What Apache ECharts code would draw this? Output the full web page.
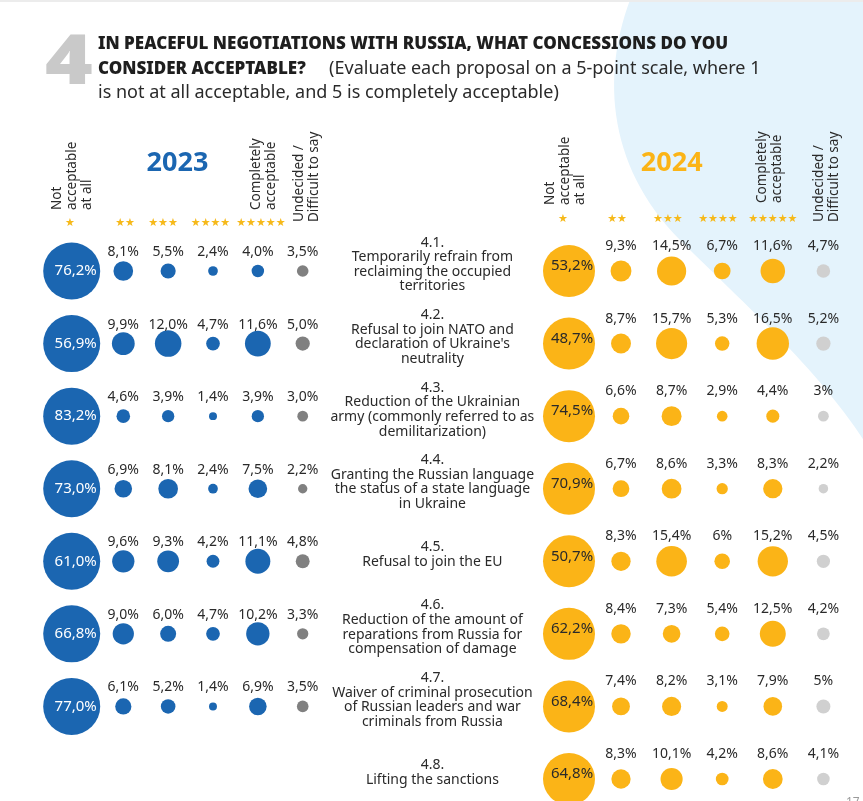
<!DOCTYPE html>
<html><head><meta charset="utf-8">
<script src="https://cdn.jsdelivr.net/npm/echarts@6/dist/echarts.min.js"></script>
<style>html,body{margin:0;padding:0;background:#fff}#c{width:863px;height:801px}</style>
</head><body><div id="c"></div>
<script>
// ---- data ----
const rowLabels = [
  '4.1.\nTemporarily refrain from\nreclaiming the occupied\nterritories',
  '4.2.\nRefusal to join NATO and\ndeclaration of Ukraine\'s\nneutrality',
  '4.3.\nReduction of the Ukrainian\narmy (commonly referred to as\ndemilitarization)',
  '4.4.\nGranting the Russian language\nthe status of a state language\nin Ukraine',
  '4.5.\nRefusal to join the EU',
  '4.6.\nReduction of the amount of\nreparations from Russia for\ncompensation of damage',
  '4.7.\nWaiver of criminal prosecution\nof Russian leaders and war\ncriminals from Russia',
  '4.8.\nLifting the sanctions'
];
const starLabels = ['★','★★','★★★','★★★★','★★★★★',''];
const headNot = 'Not\nacceptable\nat all';
const headComplete = 'Completely\nacceptable';
const headUndecided = 'Undecided /\nDifficult to say';
const year1 = '2023', year2 = '2024';

const y23_s1 = [76.2,56.9,83.2,73.0,61.0,66.8,77.0];
const y23_s2 = [8.1,9.9,4.6,6.9,9.6,9.0,6.1];
const y23_s3 = [5.5,12.0,3.9,8.1,9.3,6.0,5.2];
const y23_s4 = [2.4,4.7,1.4,2.4,4.2,4.7,1.4];
const y23_s5 = [4.0,11.6,3.9,7.5,11.1,10.2,6.9];
const y23_und = [3.5,5.0,3.0,2.2,4.8,3.3,3.5];

const y24_s1 = [53.2,48.7,74.5,70.9,50.7,62.2,68.4,64.8];
const y24_s2 = [9.3,8.7,6.6,6.7,8.3,8.4,7.4,8.3];
const y24_s3 = [14.5,15.7,8.7,8.6,15.4,7.3,8.2,10.1];
const y24_s4 = [6.7,5.3,2.9,3.3,6,5.4,3.1,4.2];
const y24_s5 = [11.6,16.5,4.4,8.3,15.2,12.5,7.9,8.6];
const y24_und = [4.7,5.2,3,2.2,4.5,4.2,5,4.1];

// ---- build ----
const BLUE = '#1b66b1', GRAY23 = '#808080', YEL = '#fbb417', GRAY24 = '#d0d0d0', STAR = '#f6b91a', TXT = '#2a2a2a';
const FONT = '"Noto Sans", sans-serif';
const pct23 = v => v.toFixed(1).replace('.', ',') + '%';
const pct24 = v => String(v).replace('.', ',') + '%';
const pts = (arr, col) => arr.map((v, r) => [col, r, v]);
const smallPts = (lists) => lists.flatMap((arr, i) => pts(arr, i + 1));

// decorative background shape (two cubic curves)
function cubic(p0, p1, p2, p3, n) {
  const out = [];
  for (let i = 0; i <= n; i++) {
    const t = i / n, u = 1 - t;
    out.push([
      u*u*u*p0[0] + 3*u*u*t*p1[0] + 3*u*t*t*p2[0] + t*t*t*p3[0],
      u*u*u*p0[1] + 3*u*u*t*p1[1] + 3*u*t*t*p2[1] + t*t*t*p3[1]
    ]);
  }
  return out;
}
const bgShape = cubic([630,0],[600,80],[610,170],[680,240],30)
  .concat(cubic([680,240],[750,310],[820,370],[870,450],30))
  .concat([[870,0]]);

// per-column horizontal nudge of star labels
function starRich(shifts) {
  const rich = {};
  shifts.forEach((s, i) => {
    rich['s' + i] = {color: STAR, fontSize: 11, fontFamily: '"DejaVu Sans"',
      padding: s < 0 ? [0, -2 * s, 0, 0] : [0, 0, 0, 2 * s]};
  });
  return rich;
}
function xAx(gi, margin, shifts) {
  return {
    type: 'category', gridIndex: gi, data: starLabels, boundaryGap: false, position: 'top',
    axisLine: {show: false}, axisTick: {show: false}, splitLine: {show: false},
    axisLabel: {
      show: !!shifts, interval: 0, margin: margin,
      formatter: (v, i) => v ? '{s' + i + '|' + v + '}' : '',
      rich: shifts ? starRich(shifts) : {}
    }
  };
}
function yAx(gi, showLabels) {
  return {
    type: 'category', gridIndex: gi, data: rowLabels, inverse: true, boundaryGap: false,
    axisLine: {show: false}, axisTick: {show: false}, splitLine: {show: false},
    axisLabel: showLabels ? {
      show: true, interval: 0, align: 'center', margin: 138, fontSize: 14, lineHeight: 14.6,
      color: TXT, fontFamily: FONT
    } : {show: false}
  };
}
const smallLabel = (fmt, dy) => ({show: true, position: 'inside', offset: [0, dy], color: TXT, fontSize: 14, fontFamily: FONT,
  formatter: p => fmt(p.value[2])});

const option = {
  animation: false,
  backgroundColor: '#fff',
  grid: [
    {left: 78.45, width: 224.25, top: 271, height: 508},
    {left: 570.4, width: 253, top: 271, height: 508},
    {left: 570.4, width: 253, top: 264.5, height: 508}
  ],
  xAxis: [xAx(0, 42, [-8.5, 1.7, -5.2, -2.5, 3]), xAx(1, 46, [-7.4, -4, -3.7, -4.3, 0]), xAx(2, 0, null)],
  yAxis: [yAx(0, false), yAx(1, false), yAx(2, true)],
  series: [
    {type: 'scatter', xAxisIndex: 0, yAxisIndex: 0, clip: false, data: pts(y23_s1, 0), symbolSize: 57,
      symbolOffset: [-6.75, 0], itemStyle: {color: BLUE, opacity: 1},
      label: {show: true, position: 'inside', offset: [4, 0], color: '#fff', fontSize: 15, fontFamily: FONT, formatter: p => pct23(p.value[2])}},
    {type: 'scatter', xAxisIndex: 0, yAxisIndex: 0, clip: false, data: smallPts([y23_s2, y23_s3, y23_s4, y23_s5]),
      symbolSize: v => 5.5 + 1.75 * v[2], itemStyle: {color: BLUE, opacity: 1}, label: smallLabel(pct23, -19)},
    {type: 'scatter', xAxisIndex: 0, yAxisIndex: 0, clip: false, data: pts(y23_und, 5),
      symbolSize: v => 5.5 + 1.75 * v[2], itemStyle: {color: GRAY23, opacity: 1}, label: smallLabel(pct23, -19)},
    {type: 'scatter', xAxisIndex: 1, yAxisIndex: 1, clip: false, data: pts(y24_s1, 0), symbolSize: 52,
      symbolOffset: [-1.4, 0], itemStyle: {color: YEL, opacity: 1},
      label: {show: true, position: 'inside', offset: [3, -5], color: TXT, fontSize: 15, fontFamily: FONT, formatter: p => pct24(p.value[2])}},
    {type: 'scatter', xAxisIndex: 1, yAxisIndex: 1, clip: false, data: smallPts([y24_s2, y24_s3, y24_s4, y24_s5]),
      symbolSize: v => 6 + 1.6 * v[2], itemStyle: {color: YEL, opacity: 1}, label: smallLabel(pct24, -25)},
    {type: 'scatter', xAxisIndex: 1, yAxisIndex: 1, clip: false, data: pts(y24_und, 5),
      symbolSize: v => 6 + 1.6 * v[2], itemStyle: {color: GRAY24, opacity: 1}, label: smallLabel(pct24, -25)}
  ],
  graphic: [
    {type: 'polygon', z: -10, silent: true, shape: {points: bgShape}, style: {fill: '#e4f3fc'}},
    {type: 'rect', z: -9, silent: true, shape: {x: 0, y: 0, width: 863, height: 2}, style: {fill: '#ececec'}},
    {type: 'text', x: 45, y: 99, scaleX: 1.18, style: {text: '4', fill: '#c9c9c9', font: '900 69px "Noto Sans"', verticalAlign: 'bottom'}},
    {type: 'text', x: 98, y: 32, style: {
      text: '{b|IN PEACEFUL NEGOTIATIONS WITH RUSSIA, WHAT CONCESSIONS DO YOU}\n{b|CONSIDER ACCEPTABLE?}{r|     (Evaluate each proposal on a 5-point scale, where 1}\n{r|is not at all acceptable, and 5 is completely acceptable)}',
      rich: {
        b: {fontFamily: FONT, fontWeight: 900, fontSize: 17, fill: '#1e1e1e', lineHeight: 24.5},
        r: {fontFamily: FONT, fontSize: 18, fill: '#2a2a2a', lineHeight: 24.5}
      }}},
    {type: 'text', x: 177.5, y: 163, style: {text: year1, fill: BLUE, font: 'bold 27px "Noto Sans"', align: 'center', verticalAlign: 'middle'}},
    {type: 'text', x: 671.7, y: 163, style: {text: year2, fill: YEL, font: 'bold 27px "Noto Sans"', align: 'center', verticalAlign: 'middle'}},
    ...[[headNot, 72, 210], [headComplete, 263.7, 210], [headUndecided, 306.7, 222],
        [headNot, 565, 205], [headComplete, 770, 203], [headUndecided, 826.5, 222]].map(([t, x, y]) => ({
      type: 'text', x: x, y: y, rotation: Math.PI / 2,
      style: {text: t, fill: TXT, font: '13.5px "Noto Sans"', lineHeight: 15, align: 'left', verticalAlign: 'middle'}
    })),
    {type: 'text', x: 846, y: 797, style: {text: '17', fill: '#9a9a9a', font: '12px "Noto Sans"', verticalAlign: 'top'}}
  ]
};
const chart = echarts.init(document.getElementById('c'), null, {renderer: 'canvas'});
chart.setOption(option);
</script></body></html>
